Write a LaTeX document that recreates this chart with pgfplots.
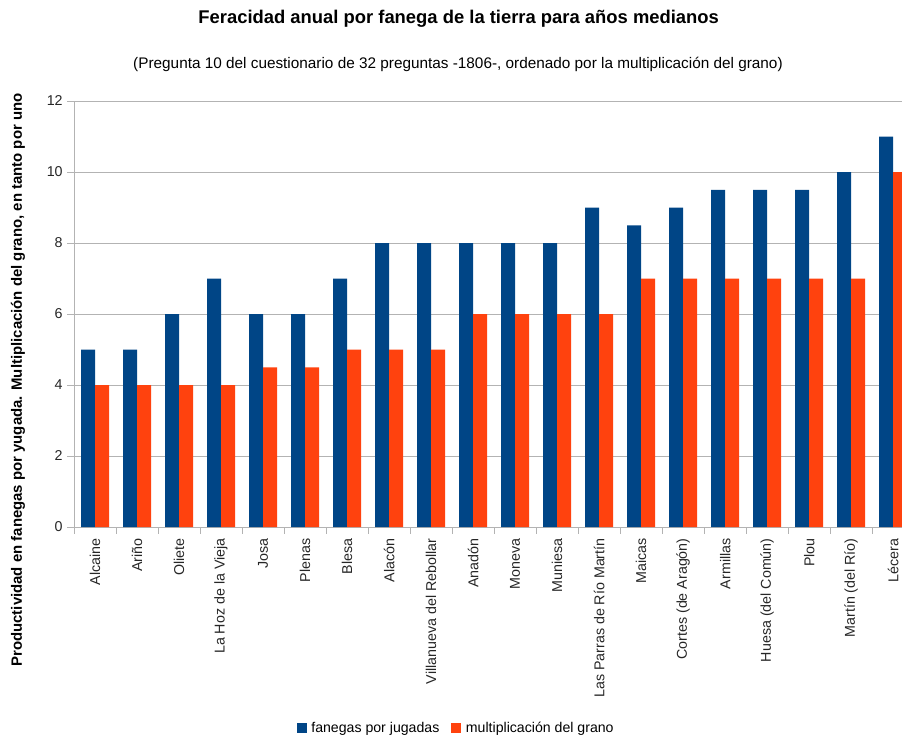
\documentclass[border=0pt]{standalone}
\usepackage{pgfplots}
\pgfplotsset{compat=1.18}
\usepackage{fontspec}
\setmainfont{Liberation Sans}
\definecolor{cblue}{HTML}{004586}
\definecolor{corange}{HTML}{FF420E}
\definecolor{cgrid}{HTML}{B3B3B3}
\begin{document}
\begin{tikzpicture}[x=1pt,y=1pt]
\begin{axis}[
  at={(55.5pt,-395.25pt)}, anchor=south west,
  scale only axis, width=621pt, height=319.5pt,
  ybar=0pt, bar width=10.5pt,
  xmin=-0.5, xmax=19.21, ymin=0, ymax=12,
  ytick={0,2,...,12},
  xtick={0,...,19},
  xticklabels={Alcaine,Ariño,Oliete,La Hoz de la Vieja,Josa,Plenas,Blesa,Alacón,Villanueva del Rebollar,Anadón,Moneva,Muniesa,Las Parras de Río Martín,Maicas,Cortes (de Aragón),Armillas,Huesa (del Común),Plou,Martín (del Río),Lécera},
  minor xtick={-0.5,0.5,...,19.5},
  x tick label style={rotate=90, anchor=east, font=\fontsize{10.7}{12}\selectfont},
  y tick label style={font=\fontsize{10.7}{12}\selectfont},
  /pgf/number format/assume math mode=true,
  axis lines*=left,
  axis line style={draw=cgrid, -},
  ymajorgrids, grid style={cgrid, line width=0.6pt},
  major x tick style={draw=none},
  minor x tick style={cgrid, line width=0.6pt},
  major y tick style={cgrid, line width=0.6pt},
  tick align=outside,
  major tick length=5pt, minor tick length=5pt,
  xtick pos=bottom, ytick pos=left,
  tick label style={text=black!85},
  legend style={at={(axis description cs:0.462,-0.472)}, anchor=center, draw=none, legend columns=2,
     font=\fontsize{10.6}{12}\selectfont, /tikz/every even column/.append style={column sep=7pt}},
  legend image code/.code={\fill[#1] (0pt,-3.7pt) rectangle (7.4pt,3.7pt);},
]
\addplot[fill=cblue, draw=none] coordinates {(0,5) (1,5) (2,6) (3,7) (4,6) (5,6) (6,7) (7,8) (8,8) (9,8) (10,8) (11,8) (12,9) (13,8.5) (14,9) (15,9.5) (16,9.5) (17,9.5) (18,10) (19,11)};
\addplot[fill=corange, draw=none] coordinates {(0,4) (1,4) (2,4) (3,4) (4,4.5) (5,4.5) (6,5) (7,5) (8,5) (9,6) (10,6) (11,6) (12,6) (13,7) (14,7) (15,7) (16,7) (17,7) (18,7) (19,10)};
\legend{\hspace{1.5pt}fanegas por jugadas, \hspace{1.5pt}multiplicación del grano}
\end{axis}
\node[font=\fontsize{13.8}{16}\selectfont\bfseries] at (344pt,-14.25pt) {Feracidad anual por fanega de la tierra para años medianos};
\node[font=\fontsize{11.5}{13}\selectfont] at (343.5pt,-48pt) {(Pregunta 10 del cuestionario de 32 preguntas -1806-, ordenado por la multiplicación del grano)};
\node[font=\fontsize{11.2}{13}\selectfont\bfseries, rotate=90] at (13.5pt,-285pt) {Productividad en fanegas por yugada. Multiplicación del grano, en tanto por uno};
\pgfresetboundingbox
\useasboundingbox (0,0) rectangle (676.5pt,-554.25pt);
\end{tikzpicture}
\end{document}
